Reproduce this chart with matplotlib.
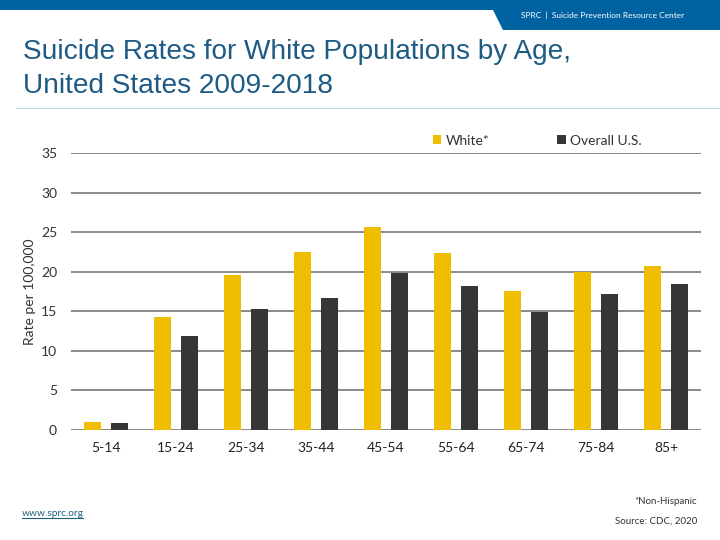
import matplotlib
matplotlib.use("Agg")
import matplotlib.pyplot as plt
import numpy as np
from matplotlib.patches import Polygon, Rectangle
from matplotlib.lines import Line2D

ages = ["5-14", "15-24", "25-34", "35-44", "45-54", "55-64", "65-74", "75-84", "85+"]
white_rates = [1.0, 14.3, 19.6, 22.5, 25.7, 22.4, 17.6, 20.0, 20.7]
overall_rates = [0.9, 11.9, 15.3, 16.7, 19.9, 18.2, 14.9, 17.2, 18.4]
y_ticks = [0, 5, 10, 15, 20, 25, 30, 35]

YELLOW = "#f0be00"
DARK = "#363636"
BLUE = "#0062a0"
TITLE_BLUE = "#1d5b85"
BODY_FONT = ["Lato", "DejaVu Sans"]

fig = plt.figure(figsize=(7.2, 5.4), dpi=100)
fig.patch.set_facecolor("white")

# top banner
fig.patches.append(Rectangle((0, 1 - 10 / 540), 1, 10 / 540, transform=fig.transFigure,
                             facecolor=BLUE, edgecolor="none"))
fig.patches.append(Polygon([(488 / 720, 1), (1, 1), (1, 1 - 30 / 540), (503 / 720, 1 - 30 / 540)],
                           closed=True, transform=fig.transFigure, facecolor=BLUE, edgecolor="none"))
fig.text(603 / 720, 1 - 15 / 540, "SPRC  |  Suicide Prevention Resource Center", color="white",
         fontsize=6, ha="center", va="center", family=BODY_FONT)

# title
fig.text(23 / 720, 1 - 52 / 540, "Suicide Rates for White Populations by Age,", color=TITLE_BLUE,
         fontsize=20.2, ha="left", va="center", family="Liberation Sans")
fig.text(23 / 720, 1 - 86 / 540, "United States 2009-2018", color=TITLE_BLUE,
         fontsize=20.2, ha="left", va="center", family="Liberation Sans")
fig.add_artist(Line2D([16 / 720, 1], [1 - 108 / 540, 1 - 108 / 540], transform=fig.transFigure,
                      color="#c3d7e6", linewidth=0.7))

ax = fig.add_axes([71 / 720, 1 - 430 / 540, 630 / 720, 277 / 540])
x = np.arange(len(ages))
ax.bar(x - 0.19, white_rates, width=0.24, color=YELLOW, label="White*", zorder=3)
ax.bar(x + 0.19, overall_rates, width=0.24, color=DARK, label="Overall U.S.", zorder=3)

ax.set_xlim(-0.5, len(ages) - 0.5)
ax.set_ylim(0, 35)
ax.set_yticks(y_ticks)
ax.set_yticklabels([str(v) for v in y_ticks], family=BODY_FONT, fontsize=10, color="#333333")
ax.set_xticks(x)
ax.set_xticklabels(ages, family=BODY_FONT, fontsize=10, color="#222222")
ax.tick_params(axis="both", length=0)
ax.tick_params(axis="y", pad=10)
ax.tick_params(axis="x", pad=9)
ax.grid(axis="y", color="#8a8a8a", linewidth=1.4, zorder=0)
for spine in ax.spines.values():
    spine.set_visible(False)
ax.set_ylabel("Rate per 100,000", family=BODY_FONT, fontsize=10, color="#333333")
ax.yaxis.set_label_coords(-0.056, 0.5)

leg = ax.legend(loc="center left", bbox_to_anchor=(0.555, 1.045), ncol=2, frameon=False,
                handlelength=0.6, handleheight=0.6, handletextpad=0.3, columnspacing=4.9,
                prop={"family": BODY_FONT, "size": 10})
for t in leg.get_texts():
    t.set_color("#333333")

# footer
fig.text(697 / 720, 1 - 502 / 540, "*Non-Hispanic", fontsize=7, ha="right", va="center",
         color="#333333", family=BODY_FONT)
fig.text(697 / 720, 1 - 521 / 540, "Source: CDC, 2020", fontsize=7, ha="right", va="center",
         color="#333333", family=BODY_FONT)
fig.text(22 / 720, 1 - 513 / 540, "www.sprc.org", fontsize=7.3, ha="left", va="center",
         color="#1f5f7a", family=BODY_FONT)
fig.add_artist(Line2D([22 / 720, 83 / 720], [1 - 518 / 540, 1 - 518 / 540], transform=fig.transFigure,
                      color="#1f5f7a", linewidth=0.8))

plt.savefig("out.png", dpi=100, facecolor=fig.get_facecolor())
plt.close()
